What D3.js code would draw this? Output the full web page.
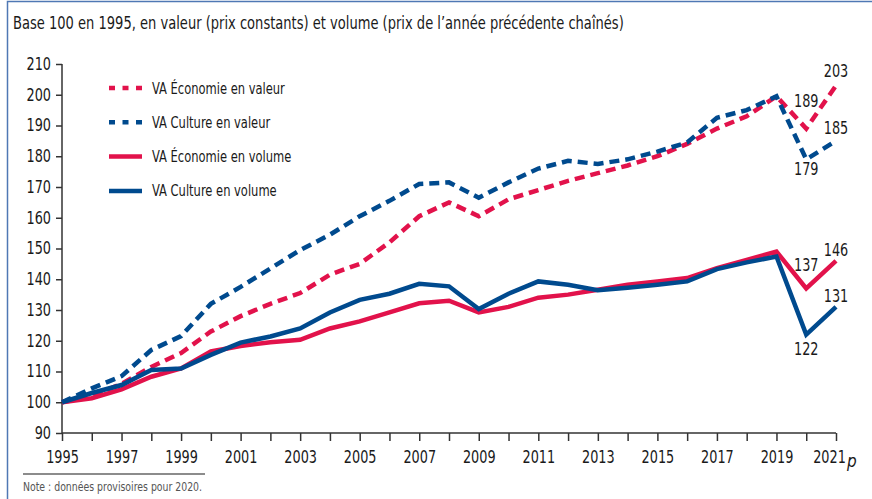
<!DOCTYPE html>
<html>
<head>
<meta charset="utf-8">
<script src="https://cdnjs.cloudflare.com/ajax/libs/d3/7.8.5/d3.min.js"></script>
<style>
  body { margin: 0; background: #fff; }
  svg text { font-family: "DejaVu Sans Condensed", "DejaVu Sans", sans-serif; font-stretch: condensed; fill: #1a1a1a; }
</style>
</head>
<body>
<div id="chart-area"></div>
<script>
// donnees (base 100 en 1995)
var years = d3.range(1995, 2022);
var ecoValeur = [100,102,106,111.5,116,123,128,132,135.5,141.5,145,152,160.5,165,160.5,166,169,172,174.5,177,180,184,189,193,199.5,189,203];
var cultValeur = [100,104.5,108.5,117,121.5,132,137.5,143.5,149.5,154.5,160.5,165.5,171,171.5,166.5,171.5,176,178.5,177.5,179,181.5,184.5,192.5,195,199.5,179,185];
var ecoVolume = [100,101.3,104.2,108.3,111,116.5,118.3,119.5,120.3,124,126.3,129.2,132.2,133,129.2,131,134,135,136.6,138.2,139.3,140.4,143.6,146.3,149,137,146];
var cultVolume = [100,103,105.6,110.5,111,115.4,119.4,121.4,124,129.2,133.3,135.3,138.5,137.7,130.3,135.3,139.3,138.2,136.4,137.2,138.2,139.3,143.3,145.5,147.4,122,131];
var yTicks = [90,100,110,120,130,140,150,160,170,180,190,200,210];
var xLabels = [1995,1997,1999,2001,2003,2005,2007,2009,2011,2013,2015,2017,2019,2021];

var red = "#e2124b", blue = "#004a8e";

var series = [
  {name: "VA Économie en valeur", values: ecoValeur, color: red, dash: "10,6"},
  {name: "VA Culture en valeur", values: cultValeur, color: blue, dash: "10,6"},
  {name: "VA Économie en volume", values: ecoVolume, color: red, dash: null},
  {name: "VA Culture en volume", values: cultVolume, color: blue, dash: null}
];

// etiquettes des deux dernieres annees
var endLabels = [
  {s: 0, year: 2020, dy: -22}, {s: 0, year: 2021, dy: -9},
  {s: 1, year: 2020, dy: 16}, {s: 1, year: 2021, dy: -7},
  {s: 2, year: 2020, dy: -17}, {s: 2, year: 2021, dy: -5},
  {s: 3, year: 2020, dy: 20}, {s: 3, year: 2021, dy: -5}
];

// resserre horizontalement un texte (police etroite absente)
function squeeze(sel, k) {
  sel.each(function() {
    var t = d3.select(this);
    var x0 = +t.attr("x") || 0;
    t.attr("transform", "translate(" + x0 + ",0) scale(" + k + ",1) translate(" + (-x0) + ",0)");
  });
}

var W = 872, H = 499;
var svg = d3.select("#chart-area").append("svg")
  .attr("width", W).attr("height", H);

// cadre
svg.append("path").attr("d", "M7.5,499 V1.5 H872")
  .attr("fill", "none").attr("stroke", "#4f78b4").attr("stroke-width", 1.5);

svg.append("text").attr("x", 13).attr("y", 29)
  .attr("font-size", 17)
  .text("Base 100 en 1995, en valeur (prix constants) et volume (prix de l\u2019année précédente chaînés)")
  .call(squeeze, 0.855);

var x = d3.scaleLinear().domain([1995, 2021]).range([62, 836]);
var y = d3.scaleLinear().domain([90, 210]).range([433, 64]);

// axe y
var yAxis = svg.append("g").attr("transform", "translate(62,0)")
  .call(d3.axisLeft(y).tickValues(yTicks).tickSize(6).tickPadding(5));
yAxis.select(".domain").attr("stroke", "#333").attr("stroke-width", 1.5).attr("d", "M0,433V64");
yAxis.selectAll(".tick line").attr("stroke", "#333").attr("stroke-width", 1.5);
yAxis.selectAll("text").attr("font-size", 17).attr("fill", "#1a1a1a").call(squeeze, 0.84);

// axe x
var xAxis = svg.append("g").attr("transform", "translate(0,433)")
  .call(d3.axisBottom(x).tickValues(years).tickSize(8).tickPadding(10)
    .tickFormat(function(d) { return xLabels.indexOf(d) >= 0 ? d : ""; }));
xAxis.select(".domain").attr("stroke", "#333").attr("stroke-width", 1.5).attr("d", "M62,0H836");
xAxis.selectAll(".tick line").attr("stroke", "#333").attr("stroke-width", 1.5);
xAxis.selectAll("text").attr("font-size", 17).attr("fill", "#1a1a1a")
  .attr("x", function(d) { return d === 2021 ? -7 : 0; })
  .call(squeeze, 0.84);
svg.append("text").attr("x", 847).attr("y", 467)
  .attr("font-size", 17).attr("font-style", "italic").text("p");

// courbes
var line = d3.line()
  .x(function(d, i) { return x(years[i]); })
  .y(function(d) { return y(d); });

svg.selectAll(".serie").data(series).enter().append("path")
  .attr("class", "serie")
  .attr("d", function(d) { return line(d.values); })
  .attr("fill", "none")
  .attr("stroke", function(d) { return d.color; })
  .attr("stroke-width", 4.5)
  .attr("stroke-linejoin", "miter")
  .attr("stroke-dasharray", function(d) { return d.dash; });

// legende
var leg = svg.selectAll(".leg").data(series).enter().append("g")
  .attr("transform", function(d, i) { return "translate(109," + (88 + i * 34.3) + ")"; });
leg.append("line").attr("x1", 0).attr("x2", 33).attr("y1", 0).attr("y2", 0)
  .attr("stroke", function(d) { return d.color; })
  .attr("stroke-width", 4.5)
  .attr("stroke-dasharray", function(d) { return d.dash ? "6,7.5" : null; });
leg.append("text").attr("x", 43).attr("y", 5.5).attr("font-size", 16)
  .text(function(d) { return d.name; })
  .call(squeeze, 0.8);

// valeurs finales
svg.selectAll(".endlab").data(endLabels).enter().append("text")
  .attr("x", function(d) { return x(d.year); })
  .attr("y", function(d) { return y(series[d.s].values[d.year - 1995]) + d.dy; })
  .attr("text-anchor", "middle").attr("font-size", 17)
  .text(function(d) { return Math.round(series[d.s].values[d.year - 1995]); })
  .call(squeeze, 0.84);

// note
svg.append("line").attr("x1", 23).attr("x2", 205).attr("y1", 474).attr("y2", 474)
  .attr("stroke", "#8c8c8c").attr("stroke-width", 2);
svg.append("text").attr("x", 23).attr("y", 491).attr("font-size", 13)
  .style("fill", "#555")
  .text("Note : données provisoires pour 2020.")
  .call(squeeze, 0.8);
</script>
</body>
</html>
